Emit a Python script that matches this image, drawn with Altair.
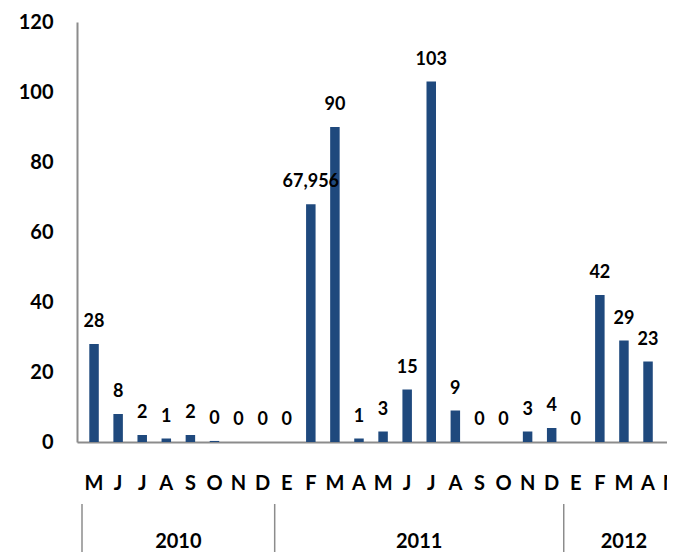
import altair as alt
import pandas as pd

months = ["M", "J", "J", "A", "S", "O", "N", "D",
          "E", "F", "M", "A", "M", "J", "J", "A", "S", "O", "N", "D",
          "E", "F", "M", "A", "M"]
values = [28, 8, 2, 1, 2, 0.3, 0, 0,
          0, 67.956, 90, 1, 3, 15, 103, 9, 0, 0, 3, 4,
          0, 42, 29, 23, 1]
labels = ["28", "8", "2", "1", "2", "0", "0", "0",
          "0", "67,956", "90", "1", "3", "15", "103", "9", "0", "0", "3", "4",
          "0", "42", "29", "23", "1"]
years = ["2010", "2011", "2012"]
year_first = [0, 8, 20]
year_last = [7, 19, 24]

FONT = "Lato"
BLUE = "#1F497D"
GREY = "#8C8C8C"

df = pd.DataFrame({"i": list(range(len(values))), "month": months,
                   "value": values, "label": labels})
ydf = pd.DataFrame({"year": years,
                    "mid": [(a + b) / 2 for a, b in zip(year_first, year_last)],
                    "sep": [a - 0.5 for a in year_first]})

xscale = alt.Scale(domain=[-0.5, 23.58], nice=False, zero=False)
yscale = alt.Scale(domain=[0, 120], nice=False)

x = alt.X("i:Q", scale=xscale,
          axis=alt.Axis(labels=False, title=None, ticks=False, grid=False,
                        domainColor=GREY, domainWidth=2))
y = alt.Y("value:Q", scale=yscale,
          axis=alt.Axis(values=[0, 20, 40, 60, 80, 100, 120], title=None,
                        ticks=False, grid=False, labelPadding=24, labelFontSize=20,
                        labelFont=FONT, labelFontWeight="bold", labelColor="black",
                        domainColor=GREY, domainWidth=2))

bars = alt.Chart(df).mark_bar(color=BLUE, width=9.5, clip=True).encode(x=x, y=y)

text = alt.Chart(df).mark_text(font=FONT, fontWeight="bold", fontSize=18,
                               baseline="alphabetic", dy=-17, color="black",
                               clip=True).encode(
    x=alt.X("i:Q", scale=xscale), y=alt.Y("value:Q", scale=yscale), text="label:N")

mtext = alt.Chart(df).mark_text(font=FONT, fontWeight="bold", fontSize=20,
                                baseline="middle", color="black").encode(
    x=alt.X("i:Q", scale=xscale), y=alt.value(462), text="month:N")

seps = alt.Chart(ydf).mark_rule(color=GREY, strokeWidth=1.5).encode(
    x=alt.X("sep:Q", scale=xscale), y=alt.value(482), y2=alt.value(540))

yr = alt.Chart(ydf).mark_text(font=FONT, fontWeight="bold", fontSize=20,
                              baseline="middle", color="black").encode(
    x=alt.X("mid:Q", scale=xscale), y=alt.value(520), text="year:N")

chart = alt.layer(bars, text, mtext, seps, yr).properties(
    width=590, height=420,
    autosize=alt.AutoSizeParams(type="none"),
    padding={"left": 69, "top": 14, "right": 0, "bottom": 110},
).configure_view(stroke=None)

chart.save("out.html", embed_options={"renderer": "svg", "actions": False})
